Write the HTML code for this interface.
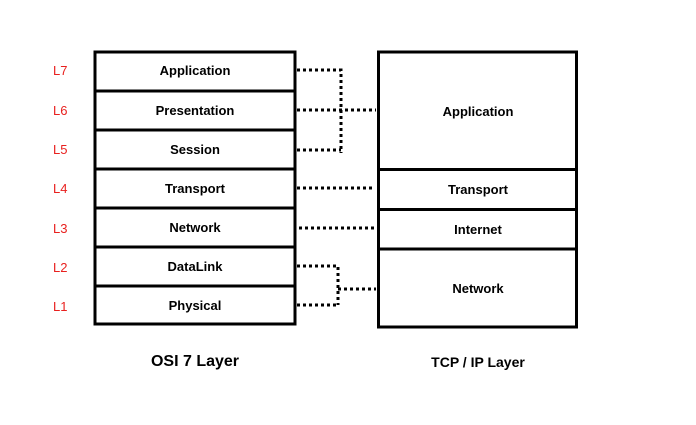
<!DOCTYPE html>
<html><head><style>
body{margin:0;background:#fff;}
svg text{font-family:"Liberation Sans",Arial,sans-serif;}
</style></head><body>
<svg width="696" height="420" viewBox="0 0 696 420" xmlns="http://www.w3.org/2000/svg">
<rect width="696" height="420" fill="#fff"/>
<g fill="none" stroke="#000" stroke-width="3">
<rect x="95" y="52" width="200" height="272"/>
<line x1="95" y1="91" x2="295" y2="91"/>
<line x1="95" y1="130" x2="295" y2="130"/>
<line x1="95" y1="169" x2="295" y2="169"/>
<line x1="95" y1="208" x2="295" y2="208"/>
<line x1="95" y1="247" x2="295" y2="247"/>
<line x1="95" y1="286" x2="295" y2="286"/>
<rect x="378.5" y="52" width="198" height="275"/>
<line x1="378" y1="169.5" x2="577" y2="169.5"/>
<line x1="378" y1="209.5" x2="577" y2="209.5"/>
<line x1="378" y1="249" x2="577" y2="249"/>
</g>
<g fill="none" stroke="#000" stroke-width="3" stroke-dasharray="3 3">
<polyline points="297,70 341,70 341,153"/>
<line x1="297" y1="110" x2="376" y2="110"/>
<line x1="297" y1="150" x2="341" y2="150"/>
<line x1="297" y1="188" x2="373" y2="188"/>
<line x1="299" y1="228" x2="374" y2="228"/>
<polyline points="297,266 338,266 338,305"/>
<line x1="297" y1="305" x2="338" y2="305"/>
<line x1="338" y1="289" x2="376" y2="289"/>
</g>
<g font-size="13" font-weight="bold" fill="#000" text-anchor="middle">
<text x="195" y="75">Application</text>
<text x="195" y="115">Presentation</text>
<text x="195" y="154">Session</text>
<text x="195" y="193">Transport</text>
<text x="195" y="232">Network</text>
<text x="195" y="271">DataLink</text>
<text x="195" y="310">Physical</text>
<text x="478" y="116">Application</text>
<text x="478" y="194">Transport</text>
<text x="478" y="234">Internet</text>
<text x="478" y="293">Network</text>
</g>
<g font-size="13" fill="#e8201e">
<text x="53" y="75">L7</text>
<text x="53" y="115">L6</text>
<text x="53" y="154">L5</text>
<text x="53" y="193">L4</text>
<text x="53" y="233">L3</text>
<text x="53" y="272">L2</text>
<text x="53" y="311">L1</text>
</g>
<text x="195" y="366" font-size="16" font-weight="bold" text-anchor="middle">OSI 7 Layer</text>
<text x="478" y="367" font-size="14" font-weight="bold" text-anchor="middle">TCP / IP Layer</text>
</svg>
</body></html>
